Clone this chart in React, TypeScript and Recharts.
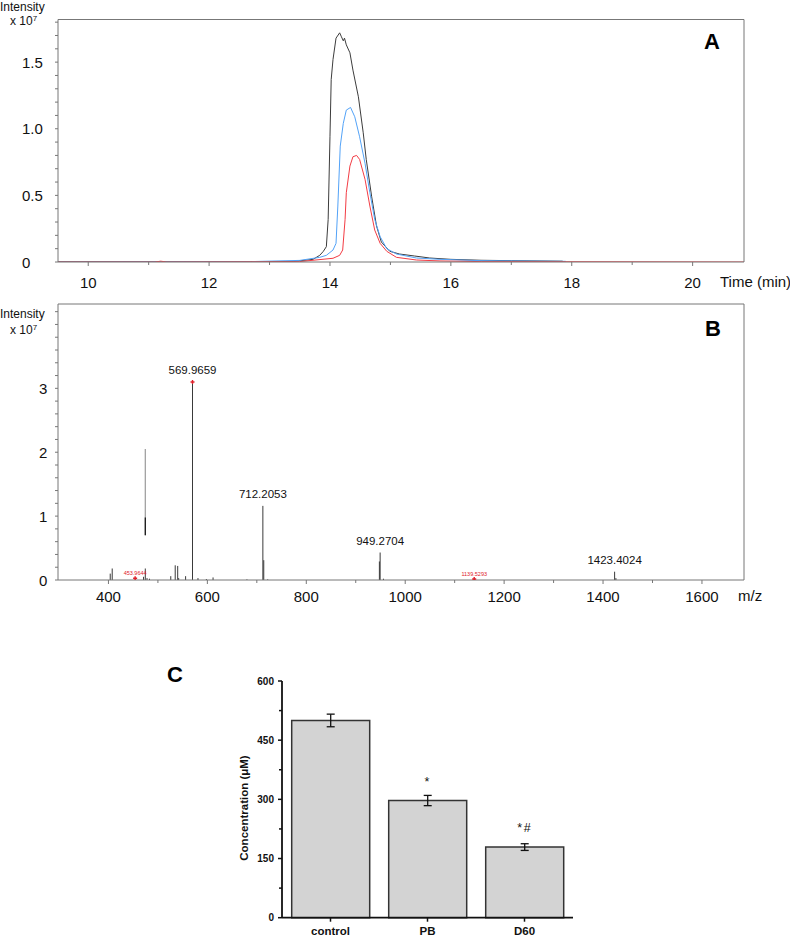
import React from "react";
import {
  Bar,
  BarChart,
  ComposedChart,
  ErrorBar,
  LabelList,
  Line,
  Scatter,
  XAxis,
  YAxis,
} from "recharts";

const FONT = '"Liberation Sans", Arial, sans-serif';
const AXIS = "#777";

// ---- Panel A: extracted ion chromatograms (time in min, intensity x 1e7)
const blackTime = [9.5, 13.4, 13.72, 13.83, 13.89, 13.94, 13.97, 14.0, 14.02, 14.05, 14.1, 14.16, 14.19, 14.22, 14.24, 14.27, 14.33, 14.38, 14.47, 14.55, 14.6, 14.69, 14.77, 14.85, 14.99, 15.15, 15.4, 15.65, 16.0, 16.5, 17.0, 17.85];
const blackIntensity = [0.002, 0.004, 0.02, 0.05, 0.08, 0.115, 0.32, 0.94, 1.37, 1.52, 1.68, 1.72, 1.69, 1.66, 1.68, 1.63, 1.57, 1.44, 1.24, 0.97, 0.77, 0.49, 0.27, 0.15, 0.08, 0.06, 0.045, 0.03, 0.02, 0.013, 0.01, 0.006];
const blueTime = [9.5, 12.7, 13.5, 13.83, 13.94, 14.05, 14.1, 14.13, 14.17, 14.22, 14.27, 14.34, 14.41, 14.49, 14.58, 14.66, 14.74, 14.83, 14.94, 15.1, 15.43, 15.82, 16.5, 17.9];
const blueIntensity = [0, 0.003, 0.012, 0.035, 0.05, 0.09, 0.14, 0.42, 0.87, 1.04, 1.14, 1.16, 1.09, 0.94, 0.74, 0.52, 0.32, 0.19, 0.1, 0.06, 0.03, 0.02, 0.01, 0.005];
const redTime = [9.5, 11.1, 11.2, 11.3, 13.5, 14.05, 14.16, 14.21, 14.25, 14.27, 14.33, 14.38, 14.44, 14.49, 14.58, 14.66, 14.74, 14.83, 14.94, 15.1, 15.43, 15.82, 16.5, 20.85];
const redIntensity = [0, 0, 0.006, 0, 0.003, 0.028, 0.05, 0.09, 0.32, 0.52, 0.72, 0.79, 0.8, 0.77, 0.62, 0.42, 0.24, 0.14, 0.08, 0.035, 0.015, 0.008, 0.003, 0];

const timeTicks = [10, 11, 12, 13, 14, 15, 16, 17, 18, 19, 20];
const timeLabels = [10, 12, 14, 16, 18, 20];
const intensityATicks = [0, 0.1, 0.2, 0.3, 0.4, 0.5, 0.6, 0.7, 0.8, 0.9, 1.0, 1.1, 1.2, 1.3, 1.4, 1.5, 1.6, 1.7, 1.8];
const intensityALabels = [0, 0.5, 1.0, 1.5];

// ---- Panel B: mass spectrum (m/z, intensity x 1e7)
const peakMz = [403.6, 407.6, 471, 474.5, 478, 483, 526, 535, 540, 542, 556, 569.97, 581, 598, 611.5, 680, 712.2, 714, 722, 947.8, 949.3, 956, 1139.5, 1423.4, 1426];
const peakIntensity = [0.1, 0.18, 0.05, 0.18, 0.03, 0.02, 0.06, 0.23, 0.22, 0.03, 0.06, 3.1, 0.03, 0.015, 0.04, 0.01, 1.16, 0.31, 0.01, 0.29, 0.43, 0.02, 0.01, 0.13, 0.03];
const ghostMz = 474.5;
const ghostRange = [0.7, 2.05];
const ghostDarkRange = [0.7, 0.98];
const labelledMz = [569.97, 712.2, 949.3, 1423.4];
const labelledIntensity = [3.1, 1.16, 0.43, 0.13];
const labelledText = ["569.9659", "712.2053", "949.2704", "1423.4024"];
const markerMz = [453.96, 569.97, 1139.53];
const markerIntensity = [0.027, 3.1, 0.015];
const markerText = ["453.9644", "", "1139.5293"];

const mzTicks = [400, 500, 600, 700, 800, 900, 1000, 1100, 1200, 1300, 1400, 1500, 1600];
const mzLabels = [400, 600, 800, 1000, 1200, 1400, 1600];
const intensityBTicks = [0, 0.2, 0.4, 0.6, 0.8, 1, 1.2, 1.4, 1.6, 1.8, 2, 2.2, 2.4, 2.6, 2.8, 3, 3.2, 3.4, 3.6, 3.8, 4, 4.2];
const intensityBLabels = [0, 1, 2, 3];

// ---- Panel C: concentration by group
const groups = ["control", "PB", "D60"];
const concentration = [500, 297, 179];
const concentrationErr = [16, 13, 8.5];
const significance = ["", "*", "*#"];
const concTicks = [0, 75, 150, 225, 300, 375, 450, 525, 600];
const concLabels = [0, 150, 300, 450, 600];

const rows = (xs: number[], ys: number[]) => xs.map((x, i) => ({ x, y: ys[i] }));

const stickRows = peakMz.flatMap((mz, i) => [
  { x: mz, y: 0 },
  { x: mz, y: peakIntensity[i] },
  { x: mz, y: null },
]);

const near = (list: number[], v: number) => list.some((t) => Math.abs(t - v) < 1e-6);

const makeXTick = (labels: number[], dy: number) => (p: any) => {
  const major = near(labels, p.payload.value);
  return (
    <g>
      <line x1={p.x} x2={p.x} y1={p.y} y2={p.y + (major ? 4 : 3)} stroke={AXIS} />
      {major && (
        <text x={p.x} y={p.y + dy} textAnchor="middle" dominantBaseline="central" fontSize={15} fill="#111" fontFamily={FONT}>
          {p.payload.value}
        </text>
      )}
    </g>
  );
};

const makeYTick = (labels: number[], dx: number, fmt: (v: number) => string) => (p: any) => {
  const major = near(labels, p.payload.value);
  return (
    <g>
      <line x1={p.x - 3} x2={p.x} y1={p.y} y2={p.y} stroke={AXIS} />
      {major && (
        <text x={p.x - dx} y={p.y} textAnchor="start" dominantBaseline="central" fontSize={15} fill="#111" fontFamily={FONT}>
          {fmt(p.payload.value)}
        </text>
      )}
    </g>
  );
};

const PeakLabel = (p: any) => (
  <text x={p.cx} y={p.cy - 8} textAnchor="middle" fontSize={11.5} fill="#111" fontFamily={FONT}>
    {p.payload.label}
  </text>
);

const RedMarker = (p: any) => (
  <g>
    <path d={`M${p.cx - 2},${p.cy}L${p.cx + 2},${p.cy}M${p.cx},${p.cy - 2}L${p.cx},${p.cy + 2}`} stroke="#e0202a" strokeWidth={1.4} />
    {p.payload.label && (
      <text x={p.cx} y={p.cy - 3} textAnchor="middle" fontSize={5.5} fill="#e0202a" fontFamily={FONT}>
        {p.payload.label}
      </text>
    )}
  </g>
);

function ChromatogramChart() {
  return (
    <ComposedChart width={790} height={300} margin={{ top: 18.5, right: 45, bottom: 37, left: 57 }}>
      <XAxis
        dataKey="x"
        type="number"
        domain={[9.5, 20.85]}
        ticks={timeTicks}
        interval={0}
        height={1}
        tickSize={0}
        tickMargin={0}
        tickLine={false}
        axisLine={{ stroke: AXIS }}
        tick={makeXTick(timeLabels, 20)}
        allowDataOverflow
      />
      <XAxis xAxisId="top" orientation="top" type="number" domain={[0, 1]} height={1} tick={false} tickLine={false} axisLine={{ stroke: AXIS }} />
      <YAxis
        type="number"
        domain={[0, 1.82]}
        ticks={intensityATicks}
        interval={0}
        width={1}
        tickSize={0}
        tickMargin={0}
        tickLine={false}
        axisLine={{ stroke: AXIS }}
        tick={makeYTick(intensityALabels, 36, (v) => (v === 0 ? "0" : v.toFixed(1)))}
        allowDataOverflow
      />
      <YAxis yAxisId="right" orientation="right" type="number" domain={[0, 1]} width={1} tick={false} tickLine={false} axisLine={{ stroke: AXIS }} />
      <Line data={rows(blackTime, blackIntensity)} dataKey="y" type="linear" stroke="#3c3c3c" strokeWidth={1} dot={false} isAnimationActive={false} />
      <Line data={rows(blueTime, blueIntensity)} dataKey="y" type="linear" stroke="#52a2f7" strokeWidth={1} dot={false} isAnimationActive={false} />
      <Line data={rows(redTime, redIntensity)} dataKey="y" type="linear" stroke="#f23c44" strokeWidth={1} dot={false} isAnimationActive={false} />
    </ComposedChart>
  );
}

function SpectrumChart() {
  const labelRows = labelledMz.map((x, i) => ({ x, y: labelledIntensity[i], label: labelledText[i] }));
  const markerRows = markerMz.map((x, i) => ({ x, y: markerIntensity[i], label: markerText[i] }));
  return (
    <ComposedChart width={790} height={330} margin={{ top: 13, right: 45, bottom: 39, left: 57 }}>
      <XAxis
        dataKey="x"
        type="number"
        domain={[298, 1685]}
        ticks={mzTicks}
        interval={0}
        height={1}
        tickSize={0}
        tickMargin={0}
        tickLine={false}
        axisLine={{ stroke: AXIS }}
        tick={makeXTick(mzLabels, 16)}
        allowDataOverflow
      />
      <XAxis xAxisId="top" orientation="top" type="number" domain={[0, 1]} height={1} tick={false} tickLine={false} axisLine={{ stroke: AXIS }} />
      <YAxis
        type="number"
        domain={[0, 4.32]}
        ticks={intensityBTicks}
        interval={0}
        width={1}
        tickSize={0}
        tickMargin={0}
        tickLine={false}
        axisLine={{ stroke: AXIS }}
        tick={makeYTick(intensityBLabels, 19, (v) => String(v))}
        allowDataOverflow
      />
      <YAxis yAxisId="right" orientation="right" type="number" domain={[0, 1]} width={1} tick={false} tickLine={false} axisLine={{ stroke: AXIS }} />
      <Line data={stickRows} dataKey="y" type="linear" stroke="#3a3a3a" strokeWidth={1} dot={false} connectNulls={false} isAnimationActive={false} />
      <Line data={rows([ghostMz, ghostMz], ghostRange)} dataKey="y" type="linear" stroke="#9a9a9a" strokeWidth={1.2} dot={false} isAnimationActive={false} />
      <Line data={rows([ghostMz, ghostMz], ghostDarkRange)} dataKey="y" type="linear" stroke="#111" strokeWidth={1.2} dot={false} isAnimationActive={false} />
      <Scatter data={labelRows} dataKey="y" shape={PeakLabel} isAnimationActive={false} />
      <Scatter data={markerRows} dataKey="y" shape={RedMarker} isAnimationActive={false} />
    </ComposedChart>
  );
}

const ConcXTick = (p: any) => (
  <g>
    <line x1={p.x} x2={p.x} y1={p.y} y2={p.y + 4} stroke="#111" strokeWidth={1.5} />
    <text x={p.x} y={p.y + 13} textAnchor="middle" dominantBaseline="central" fontSize={11.5} fontWeight="bold" fill="#111" fontFamily={FONT}>
      {p.payload.value}
    </text>
  </g>
);

const ConcYTick = (p: any) => {
  const major = near(concLabels, p.payload.value);
  return (
    <g>
      <line x1={p.x - (major ? 4 : 3)} x2={p.x} y1={p.y} y2={p.y} stroke="#111" strokeWidth={1.5} />
      {major && (
        <text x={p.x - 8} y={p.y} textAnchor="end" dominantBaseline="central" fontSize={10} fontWeight="bold" fill="#111" fontFamily={FONT}>
          {p.payload.value}
        </text>
      )}
    </g>
  );
};

const SigLabel = (p: any) =>
  p.value ? (
    <text x={p.x + p.width / 2} y={p.y - 15} textAnchor="middle" fontSize={12.5} letterSpacing={1.5} fill="#111" fontFamily={FONT}>
      {p.value}
    </text>
  ) : null;

function ConcentrationChart() {
  const data = groups.map((name, i) => ({ name, value: concentration[i], err: concentrationErr[i], sig: significance[i] }));
  return (
    <BarChart width={790} height={298} data={data} margin={{ top: 41, right: 217, bottom: 19.3, left: 281 }} barCategoryGap="10%">
      <XAxis dataKey="name" height={1} tickSize={0} tickMargin={0} tickLine={false} axisLine={{ stroke: "#111", strokeWidth: 1.8 }} tick={ConcXTick} />
      <YAxis
        type="number"
        domain={[0, 600]}
        ticks={concTicks}
        interval={0}
        width={1}
        tickSize={0}
        tickMargin={0}
        tickLine={false}
        axisLine={{ stroke: "#111", strokeWidth: 1.8 }}
        tick={ConcYTick}
      />
      <Bar dataKey="value" fill="#d3d3d3" stroke="#333" strokeWidth={1.5} isAnimationActive={false}>
        <ErrorBar dataKey="err" width={4} stroke="#111" strokeWidth={1.3} />
        <LabelList dataKey="sig" content={SigLabel} />
      </Bar>
    </BarChart>
  );
}

export default function App() {
  return (
    <div style={{ position: "absolute", left: 0, top: 0, width: 790, height: 938, background: "#fff", fontFamily: FONT }}>
      <div style={{ position: "absolute", left: 0, top: 0 }}>
        <ChromatogramChart />
      </div>
      <div style={{ position: "absolute", left: 0, top: 290 }}>
        <SpectrumChart />
      </div>
      <div style={{ position: "absolute", left: 0, top: 640 }}>
        <ConcentrationChart />
      </div>
      <svg width={790} height={938} style={{ position: "absolute", left: 0, top: 0, pointerEvents: "none" }} fontFamily={FONT}>
        <text x={0} y={11} fontSize={12} fill="#111">Intensity</text>
        <text x={10} y={25} fontSize={12} fill="#111">
          x 10<tspan fontSize={8} dy={-4}>7</tspan>
        </text>
        <text x={712} y={49} fontSize={22} fontWeight="bold" textAnchor="middle" fill="#000">A</text>
        <text x={720} y={287} fontSize={15} fill="#111">Time (min)</text>
        <text x={0} y={318} fontSize={12} fill="#111">Intensity</text>
        <text x={10} y={334} fontSize={12} fill="#111">
          x 10<tspan fontSize={8} dy={-4}>7</tspan>
        </text>
        <text x={713} y={336} fontSize={22} fontWeight="bold" textAnchor="middle" fill="#000">B</text>
        <text x={738} y={601} fontSize={15} fill="#111">m/z</text>
        <text x={167} y={682} fontSize={22} fontWeight="bold" fill="#000">C</text>
        <text
          x={248}
          y={808}
          fontSize={11.5}
          fontWeight="bold"
          textAnchor="middle"
          fill="#111"
          transform="rotate(-90 248 808)"
        >
          Concentration (μM)
        </text>
      </svg>
    </div>
  );
}
